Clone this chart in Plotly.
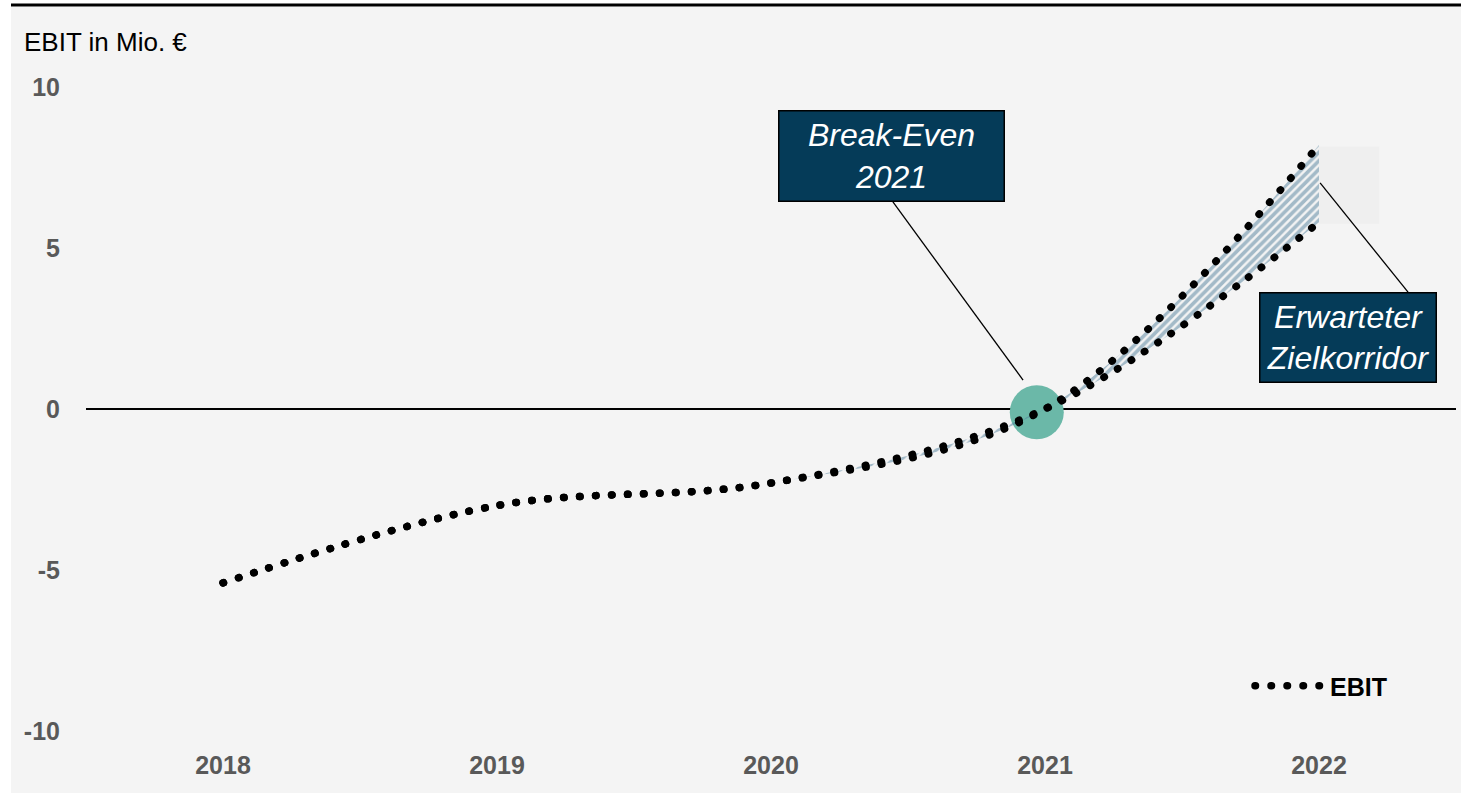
import plotly.graph_objects as go

# ---- data ----
years = [2018, 2019, 2020, 2021, 2022]
year_labels = ["2018", "2019", "2020", "2021", "2022"]
ebit_upper = [-5.4, -3.0, -2.3, 0.0, 8.2]
ebit_lower = [-5.4, -3.0, -2.3, 0.0, 5.8]
breakeven_x = [2020.97]
breakeven_y = [-0.1]
y_ticks = [-10, -5, 0, 5, 10]
y_tick_labels = ["-10", "-5", "0", "5", "10"]

FONT = "Liberation Sans, Arial, sans-serif"
DOT = "0.5px,15.5px"

fig = go.Figure()

fig.add_trace(go.Scatter(
    x=breakeven_x, y=breakeven_y, mode="markers",
    marker=dict(size=54, color="#6bb8a8", line=dict(width=0)),
    showlegend=False, hoverinfo="skip"))

fig.add_trace(go.Scatter(
    x=years, y=ebit_lower, mode="lines", line_shape="spline",
    line=dict(color="black", width=7.5, dash=DOT),
    showlegend=True, name="EBIT"))

fig.add_trace(go.Scatter(
    x=years, y=ebit_upper, mode="lines", line_shape="spline",
    line=dict(color="black", width=7.5, dash=DOT),
    fill="tonexty", fillcolor="rgba(0,0,0,0)",
    fillpattern=dict(shape="/", fgcolor="#52809b", bgcolor="rgba(0,0,0,0)",
                     size=6, solidity=0.6),
    name="EBIT (oben)", showlegend=False))

W, H = 1461, 796
L, R, T, B = 86, 5, 87, 65
pw, ph = W - L - R, H - T - B

def px_x(p):
    return (p - L) / pw

def px_y(p):
    return (H - B - p) / ph

shapes = [
    dict(type="rect", xref="paper", yref="paper",
         x0=px_x(11), x1=px_x(1461), y0=px_y(793), y1=px_y(7),
         fillcolor="#f4f4f4", line=dict(width=0), layer="below"),
    dict(type="line", xref="paper", yref="paper",
         x0=px_x(11), x1=px_x(1461), y0=px_y(5), y1=px_y(5),
         line=dict(color="black", width=3)),
    dict(type="rect", xref="x", yref="y",
         x0=2022.0, x1=2022.22, y0=5.75, y1=8.15,
         fillcolor="#efefef", line=dict(width=0), layer="below"),
    dict(type="line", xref="x", yref="y",
         x0=2020.445, y0=6.43, x1=2020.92, y1=0.9,
         line=dict(color="black", width=1.3)),
    dict(type="line", xref="x", yref="y",
         x0=2022.325, y0=3.63, x1=2022.004, y1=7.02,
         line=dict(color="black", width=1.3)),
]

box_font = dict(family=FONT, size=32, color="white", style="italic")
annotations = [
    dict(text="EBIT in Mio. €", xref="paper", yref="paper",
         x=px_x(22), y=px_y(42), xanchor="left", yanchor="middle",
         showarrow=False, font=dict(family=FONT, size=26, color="black")),
    dict(text="Break-Even<br>2021", xref="x", yref="y",
         x=2020.44, y=7.857, xanchor="center", yanchor="middle",
         showarrow=False, font=box_font, align="center",
         bgcolor="#053b58", bordercolor="black", borderwidth=1.5,
         borderpad=0, width=224, height=89),
    dict(text="Erwarteter<br>Zielkorridor", xref="x", yref="y",
         x=2022.106, y=2.22, xanchor="center", yanchor="middle",
         showarrow=False, font=box_font, align="center",
         bgcolor="#053b58", bordercolor="black", borderwidth=1.5,
         borderpad=0, width=175, height=88),
]

tickfont = dict(family=FONT, size=25, color="#595959", weight="bold")

fig.update_layout(
    width=W, height=H,
    margin=dict(l=L, r=R, t=T, b=B),
    paper_bgcolor="white", plot_bgcolor="#f4f4f4",
    font=dict(family=FONT),
    shapes=shapes, annotations=annotations,
    showlegend=True,
    legend=dict(x=px_x(1392), y=px_y(686), xanchor="right", yanchor="middle",
                bgcolor="rgba(0,0,0,0)", itemwidth=70,
                font=dict(family=FONT, size=25, color="black", weight="bold")),
    xaxis=dict(range=[2017.5, 2022.5], tickvals=years, ticktext=year_labels,
               tickfont=tickfont, showgrid=False, zeroline=False, showline=False,
               ticks="outside", ticklen=12, tickcolor="rgba(0,0,0,0)"),
    yaxis=dict(range=[-10, 10], tickvals=y_ticks, ticktext=y_tick_labels,
               tickfont=tickfont, showgrid=False, zeroline=True,
               zerolinecolor="black", zerolinewidth=2, showline=False,
               ticks="outside", ticklen=20, tickcolor="rgba(0,0,0,0)"),
)

post = """
document.body.style.margin='0';
var gd=document.getElementById('{plot_id}');
function fixCaps(){
  gd.querySelectorAll('.scatterlayer .js-line, .legendlines path').forEach(function(p){
    p.style.strokeLinecap='round';
  });
}
fixCaps();
gd.on('plotly_afterplot', fixCaps);
"""

fig.write_html("out.html", post_script=post, config={"displayModeBar": False})
